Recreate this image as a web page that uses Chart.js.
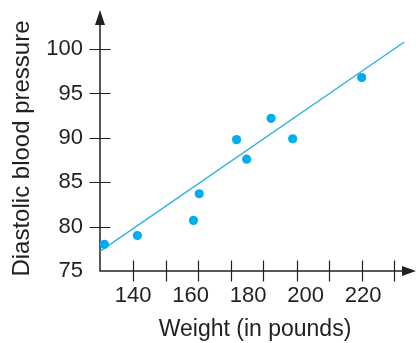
<!DOCTYPE html>
<html>
<head>
<meta charset="utf-8">
<script src="https://cdn.jsdelivr.net/npm/chart.js@4"></script>
<style>
  html, body { margin: 0; padding: 0; background: #fff; }
  #wrap { width: 416px; height: 343px; }
</style>
</head>
<body>
<div id="wrap"><canvas id="myChart" width="416" height="343"></canvas></div>
<script>
"use strict";

// weight (pounds) and diastolic blood pressure
const weights = [130, 141.5, 161, 163, 176, 179.5, 188, 195.5, 219.5];
const pressures = [78, 79, 80.7, 83.7, 89.8, 87.6, 92.2, 89.9, 96.8];

// fitted line end points
const fitWeights = [128.5, 234.3];
const fitPressures = [77.2, 100.8];

const xTickLabels = [140, 160, 180, 200, 220];
const xTickMarks = [140, 151.3, 162.6, 173.9, 185.2, 196.9, 208.2, 219.7, 230.8];
const yTickLabels = [75, 80, 85, 90, 95, 100];

const ink = `#231f20`;
const blue = `#00aeef`;
const family = `"Liberation Sans", Arial, Helvetica, sans-serif`;

const axisArrows = {
  id: `axisArrows`,
  beforeDatasetsDraw(chart) {
    const { ctx, chartArea: a, scales: { x, y } } = chart;
    ctx.save();
    ctx.strokeStyle = ink;
    ctx.fillStyle = ink;
    ctx.lineWidth = 1.5;
    ctx.beginPath();
    ctx.moveTo(a.left, a.top - 8);
    ctx.lineTo(a.left, a.bottom);
    ctx.lineTo(a.right, a.bottom);
    ctx.stroke();
    // arrow heads
    ctx.beginPath();
    ctx.moveTo(a.left, a.top - 16);
    ctx.lineTo(a.left - 5, a.top - 1);
    ctx.lineTo(a.left + 5, a.top - 1);
    ctx.closePath();
    ctx.fill();
    ctx.beginPath();
    ctx.moveTo(a.right + 6, a.bottom);
    ctx.lineTo(a.right - 8, a.bottom - 5);
    ctx.lineTo(a.right - 8, a.bottom + 5);
    ctx.closePath();
    ctx.fill();
    // tick marks crossing the axes
    ctx.lineWidth = 1.2;
    ctx.beginPath();
    xTickMarks.forEach((v) => {
      const px = Math.round(x.getPixelForValue(v)) + 0.5;
      ctx.moveTo(px, a.bottom - 10.5);
      ctx.lineTo(px, a.bottom + 10.5);
    });
    yTickLabels.forEach((v) => {
      if (v === y.min) return;
      const py = Math.round(y.getPixelForValue(v)) + 0.5;
      ctx.moveTo(a.left - 10.5, py);
      ctx.lineTo(a.left + 10.5, py);
    });
    ctx.stroke();
    ctx.restore();
  }
};

const chartCanvas = document.getElementById(`myChart`).getContext(`2d`);
const chart = new Chart(chartCanvas, {
  type: `scatter`,
  data: {
    datasets: [
      {
        type: `line`,
        label: `Fit`,
        data: fitWeights.map((w, i) => ({ x: w, y: fitPressures[i] })),
        borderColor: `#2cb2e6`,
        borderWidth: 1.4,
        pointRadius: 0,
        fill: false,
        order: 2
      },
      {
        label: `Patients`,
        data: weights.map((w, i) => ({ x: w, y: pressures[i] })),
        backgroundColor: blue,
        borderColor: blue,
        borderWidth: 0,
        pointRadius: 4.6,
        order: 1
      }
    ]
  },
  options: {
    responsive: false,
    animation: false,
    layout: { padding: { left: 0, right: 6, top: 26, bottom: 0 } },
    plugins: {
      legend: { display: false },
      tooltip: { enabled: false }
    },
    scales: {
      x: {
        type: `linear`,
        min: 128.5,
        max: 236.3,
        afterBuildTicks: (s) => {
          s.ticks = xTickLabels.map((v) => ({ value: v }));
        },
        afterFit: (s) => {
          s.height = 72;
        },
        grid: { display: false, drawTicks: false },
        border: { display: false },
        ticks: {
          padding: 12,
          color: ink,
          font: { family: family, size: 22 }
        },
        title: {
          display: true,
          text: `Weight (in pounds)`,
          color: ink,
          font: { family: family, size: 23 },
          padding: { top: 0, bottom: 0 }
        }
      },
      y: {
        min: 75,
        max: 102.6,
        afterBuildTicks: (s) => {
          s.ticks = yTickLabels.map((v) => ({ value: v }));
        },
        afterFit: (s) => {
          s.width = 100;
          s.paddingTop = 0;
          s.paddingBottom = 0;
        },
        grid: { display: false, drawTicks: false },
        border: { display: false },
        ticks: {
          padding: 17,
          color: ink,
          font: { family: family, size: 22 }
        },
        title: {
          display: true,
          text: `Diastolic blood pressure`,
          color: ink,
          font: { family: family, size: 24 },
          padding: { top: 8, bottom: 0 }
        }
      }
    }
  },
  plugins: [axisArrows]
});
</script>
</body>
</html>
